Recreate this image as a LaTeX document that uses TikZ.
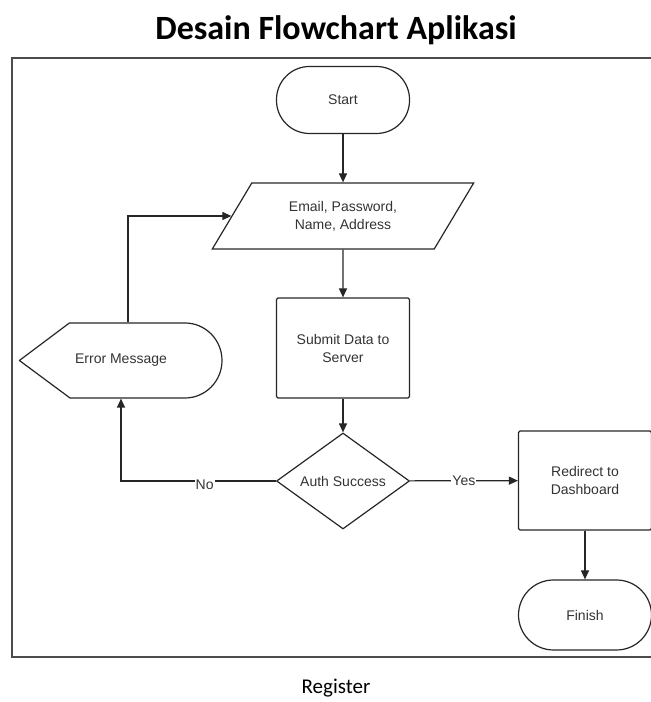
\documentclass[tikz,border=0pt]{standalone}
\usepackage{fontspec}
\setmainfont{Liberation Sans}
\newfontfamily\titlefont{Carlito}
\usetikzlibrary{shapes.geometric,arrows.meta}

\tikzset{
  shp/.style={draw=black!85,line width=1.2pt,align=center,text=black!80,
    font=\fontsize{14}{18}\selectfont,inner sep=0pt},
  term/.style={shp,rectangle,rounded corners=33pt,minimum width=133pt,minimum height=67pt},
  proc/.style={shp,rectangle,rounded corners=1.5pt,minimum width=133pt,minimum height=100pt},
  io/.style={shp,trapezium,trapezium left angle=52,trapezium right angle=128,
    trapezium stretches=true,minimum width=262pt,minimum height=66pt},
  dec/.style={shp,diamond,minimum width=133pt,minimum height=96pt},
  flow/.style={draw=black!85,line width=1.2pt,-{Triangle[length=9pt,width=8pt]}},
  lbl/.style={fill=white,inner sep=1pt,text=black!80,font=\fontsize{14}{18}\selectfont}
}

\begin{document}
\begin{tikzpicture}[x=1pt,y=1pt]
\useasboundingbox (0,0) rectangle (651,702);
\clip (0,0) rectangle (651,702);

% frame and captions
\draw[black!70,line width=2pt] (12,45) rectangle (680,644);
\node[font=\titlefont\bfseries\fontsize{34}{40}\selectfont] (title) at (336,672) {Desain Flowchart Aplikasi};
\node[font=\titlefont\fontsize{21}{25}\selectfont] (caption) at (336,14) {Register};

% main column
\node[term] (start) at (343,602) {Start};
\node[io] (input) at (343,486) {Email, Password,\\Name, Address};
\node[proc] (submit) at (343,354) {Submit Data to\\Server};
\node[dec] (auth) at (343,221) {Auth Success};

% right column
\node[proc,minimum height=99pt] (redirect) at (585,221.5) {Redirect to\\Dashboard};
\node[term,rounded corners=35pt,minimum height=70pt] (finish) at (585,87) {Finish};

% error display
\node[shp,draw=none,minimum width=202pt,minimum height=75pt] (err) at (121,341.5) {Error Message};
\draw[draw=black!85,line width=1.2pt,line join=round] (err.west) -- ++(50,37.5) -- (185,379)
  arc[start angle=90,end angle=-90,x radius=37,y radius=37.5] -- (70,304) -- cycle;

\draw[flow] (start) -- (input);
\draw[flow] (input) -- (submit);
\draw[flow] (submit) -- (auth);
\draw[flow] (auth) -- node[lbl]{Yes} (redirect);
\draw[flow] (redirect) -- (finish);
\draw[flow] (auth.west) -| node[lbl,pos=0.23,yshift=-4pt]{No} (err.south);
\draw[flow] ([xshift=7pt]err.north) |- (input.west);
\end{tikzpicture}
\end{document}
